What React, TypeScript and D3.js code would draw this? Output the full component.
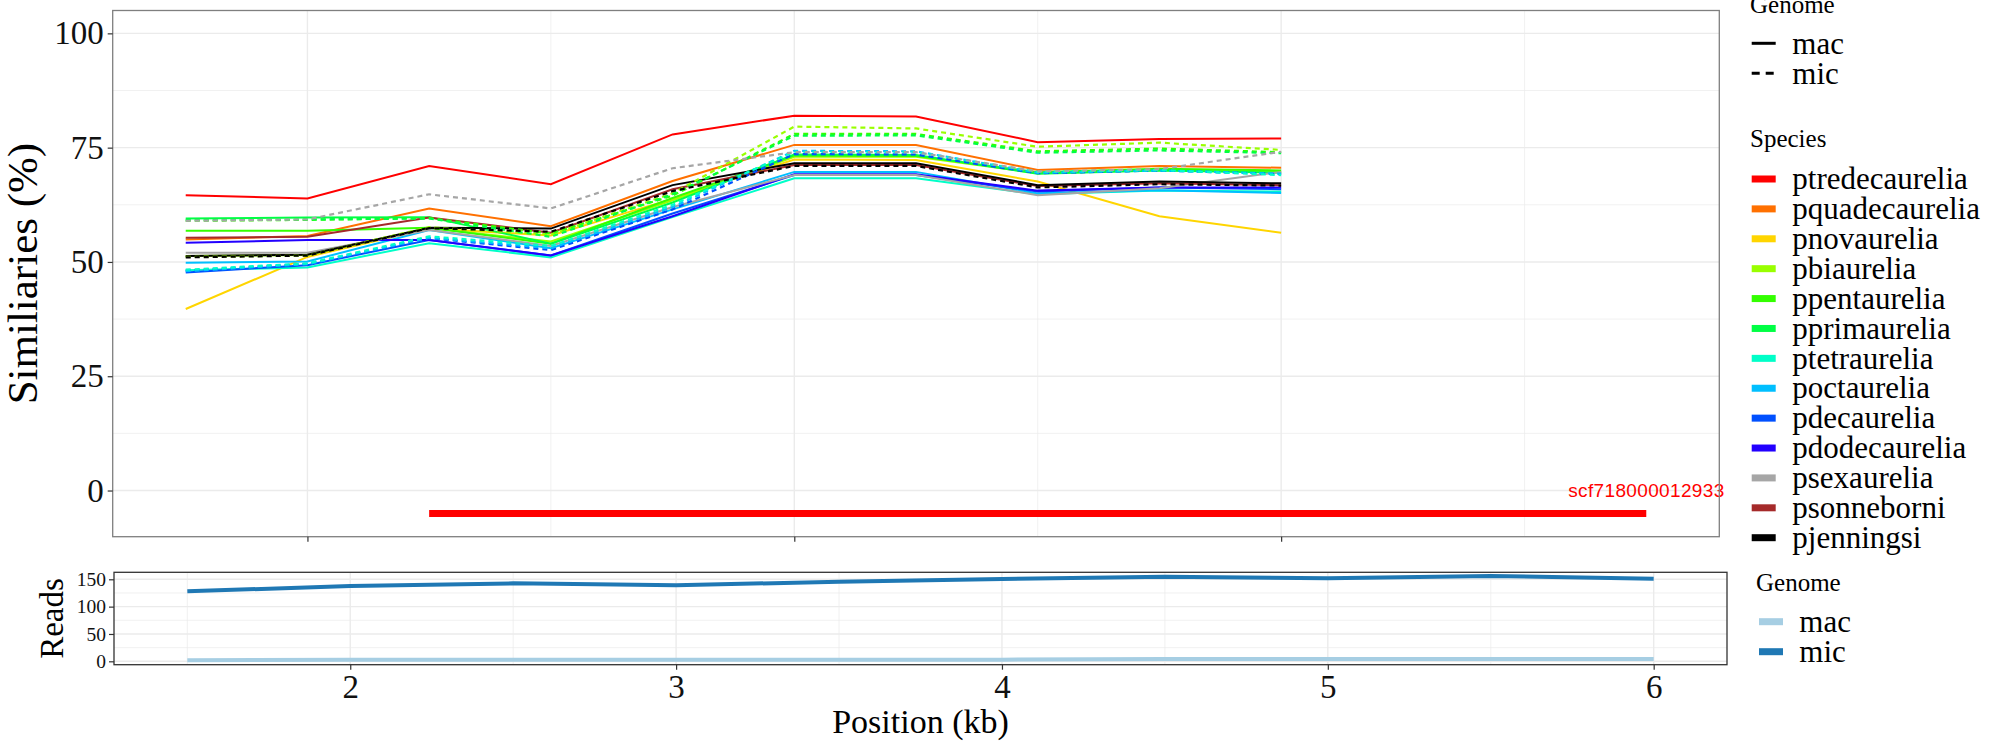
import React, { useEffect, useRef } from "react";
import * as d3 from "d3";

// positions (kb) of the sliding windows
const positions = [1.5, 2, 2.5, 3, 3.5, 4, 4.5, 5, 5.5, 6];

const speciesNames = [
  "ptredecaurelia",
  "pquadecaurelia",
  "pnovaurelia",
  "pbiaurelia",
  "ppentaurelia",
  "pprimaurelia",
  "ptetraurelia",
  "poctaurelia",
  "pdecaurelia",
  "pdodecaurelia",
  "psexaurelia",
  "psonneborni",
  "pjenningsi",
];

const speciesColors = [
  "#FF0000",
  "#FF7000",
  "#FFD500",
  "#99FF00",
  "#33FF00",
  "#00FF44",
  "#00FFC8",
  "#00BFFF",
  "#0050FF",
  "#2200FF",
  "#A6A6A6",
  "#A52A2A",
  "#000000",
];

// similarity (%) - mac genome
const macPtredecaurelia = [64.6, 63.9, 71.0, 67.0, 77.9, 82.0, 81.8, 76.2, 76.9, 77.0];
const macPquadecaurelia = [54.9, 55.7, 61.7, 57.8, 67.7, 75.6, 75.6, 70.1, 71.0, 70.6];
const macPnovaurelia = [39.7, 51.1, 57.3, 55.8, 63.8, 72.4, 72.3, 67.6, 60.0, 56.4];
const macPbiaurelia = [51.3, 51.5, 57.4, 54.5, 63.5, 73.0, 73.0, 69.4, 70.1, 69.7];
const macPpentaurelia = [56.8, 56.8, 57.5, 54.0, 64.0, 73.3, 73.2, 69.6, 70.4, 70.0];
const macPprimaurelia = [59.5, 59.7, 59.8, 54.0, 63.0, 73.5, 73.4, 69.3, 70.0, 69.5];
const macPtetraurelia = [48.2, 48.8, 54.1, 51.0, 59.8, 68.3, 68.3, 64.8, 65.6, 65.4];
const macPoctaurelia = [49.8, 50.1, 57.0, 53.0, 61.5, 69.7, 69.7, 65.0, 65.7, 65.1];
const macPdecaurelia = [47.7, 49.3, 54.8, 51.4, 60.6, 69.0, 69.0, 65.4, 66.3, 65.9];
const macPdodecaurelia = [54.2, 54.8, 54.8, 51.4, 60.0, 69.2, 69.2, 65.6, 66.3, 66.3];
const macPsexaurelia = [52.0, 52.0, 57.0, 53.5, 62.0, 69.0, 69.0, 64.6, 66.1, 69.7];
const macPsonneborni = [55.3, 55.5, 59.7, 56.4, 65.9, 71.2, 71.2, 66.6, 67.2, 66.8];
const macPjenningsi = [51.3, 51.6, 57.5, 57.3, 66.8, 71.6, 71.6, 66.8, 67.6, 67.2];

// similarity (%) - mic genome
const micPbiaurelia = [51.1, 51.4, 57.6, 56.0, 65.0, 79.6, 79.2, 75.2, 76.1, 74.5];
const micPpentaurelia = [59.0, 59.2, 59.6, 56.2, 64.5, 78.0, 78.0, 74.2, 74.8, 74.0];
const micPprimaurelia = [59.2, 59.3, 59.5, 55.5, 64.8, 77.6, 77.7, 73.9, 74.4, 73.8];
const micPtetraurelia = [48.3, 49.7, 55.6, 53.5, 62.5, 74.1, 74.0, 69.7, 70.1, 69.0];
const micPoctaurelia = [48.0, 49.5, 55.3, 53.0, 62.0, 74.3, 74.2, 69.5, 70.0, 69.3];
const micPdecaurelia = [48.1, 49.6, 55.2, 52.6, 61.5, 73.6, 73.5, 69.4, 70.0, 69.2];
const micPsexaurelia = [59.0, 59.3, 64.8, 61.7, 70.5, 74.0, 74.0, 69.8, 70.3, 74.1];
const micPjenningsi = [51.0, 51.4, 57.4, 56.6, 65.5, 71.0, 71.0, 66.3, 67.0, 66.7];

// read depth
const readsMac = [2, 3, 3, 3, 3, 3, 4, 4, 4, 4];
const readsMic = [128, 137.7, 142.6, 139, 145.6, 150.5, 154.8, 151.8, 156, 151];

// scaffold annotation
const scaffoldName = "scf718000012933";
const scaffoldStart = 2.5;
const scaffoldEnd = 7.5;
const scaffoldY = -5;

// axes
const simTicks = [0, 25, 50, 75, 100];
const simMinor = [12.5, 37.5, 62.5, 87.5];
const topXTicks = [2, 4, 6];
const topXMinor = [3, 5, 7];
const readTicks = [0, 50, 100, 150];
const readMinor = [25, 75, 125];
const bottomXTicks = [2, 3, 4, 5, 6];
const bottomXMinor = [1.5, 2.5, 3.5, 4.5, 5.5];

const genomeLevels = ["mac", "mic"];
const readColors = ["#A6CEE3", "#1F78B4"];

const macSeries = [
  macPtredecaurelia, macPquadecaurelia, macPnovaurelia, macPbiaurelia, macPpentaurelia,
  macPprimaurelia, macPtetraurelia, macPoctaurelia, macPdecaurelia, macPdodecaurelia,
  macPsexaurelia, macPsonneborni, macPjenningsi,
].map((values, i) => ({ species: speciesNames[i], values }));

// drawing order of the dashed (mic) lines, last on top
const micSeries = [
  { species: "pdecaurelia", values: micPdecaurelia },
  { species: "pbiaurelia", values: micPbiaurelia },
  { species: "ppentaurelia", values: micPpentaurelia },
  { species: "pprimaurelia", values: micPprimaurelia },
  { species: "poctaurelia", values: micPoctaurelia },
  { species: "ptetraurelia", values: micPtetraurelia },
  { species: "psexaurelia", values: micPsexaurelia },
  { species: "pjenningsi", values: micPjenningsi },
];

const SERIF = "'Liberation Serif', 'Times New Roman', serif";
const SANS = "'Liberation Sans', Arial, sans-serif";

const App: React.FC = () => {
  const svgRef = useRef<SVGSVGElement | null>(null);

  useEffect(() => {
    if (!svgRef.current) return;
    const svg = d3.select(svgRef.current);
    svg.selectAll("*").remove();

    const colorOf = d3.scaleOrdinal<string, string>().domain(speciesNames).range(speciesColors);

    // ---------- upper panel ----------
    const up = { left: 112.7, right: 1719.3, top: 10.5, bottom: 536.7 };
    const x1 = d3.scaleLinear().domain([1.2, 7.8]).range([up.left, up.right]);
    const y1 = d3.scaleLinear().domain([-10.1, 105]).range([up.bottom, up.top]);

    const g1 = svg.append("g");

    const hgrid = (g: any, vals: number[], y: any, x0: number, x1v: number, w: number) =>
      g.selectAll(null).data(vals).enter().append("line")
        .attr("x1", x0).attr("x2", x1v)
        .attr("y1", (d: number) => y(d)).attr("y2", (d: number) => y(d))
        .attr("stroke", "#EBEBEB").attr("stroke-width", w);
    const vgrid = (g: any, vals: number[], x: any, y0: number, y1v: number, w: number) =>
      g.selectAll(null).data(vals).enter().append("line")
        .attr("y1", y0).attr("y2", y1v)
        .attr("x1", (d: number) => x(d)).attr("x2", (d: number) => x(d))
        .attr("stroke", "#EBEBEB").attr("stroke-width", w);

    hgrid(g1, simMinor, y1, up.left, up.right, 0.7);
    vgrid(g1, topXMinor, x1, up.top, up.bottom, 0.7);
    hgrid(g1, simTicks, y1, up.left, up.right, 1.4);
    vgrid(g1, topXTicks, x1, up.top, up.bottom, 1.4);

    const line1 = d3.line<number>()
      .x((_, i) => x1(positions[i]))
      .y(d => y1(d));

    g1.selectAll(null).data(macSeries).enter().append("path")
      .attr("d", d => line1(d.values) as string)
      .attr("fill", "none")
      .attr("stroke", d => colorOf(d.species))
      .attr("stroke-width", 2);

    g1.selectAll(null).data(micSeries).enter().append("path")
      .attr("d", d => line1(d.values) as string)
      .attr("fill", "none")
      .attr("stroke", d => colorOf(d.species))
      .attr("stroke-width", 2.2)
      .attr("stroke-dasharray", "5,4");

    // scaffold bar + label
    g1.append("line")
      .attr("x1", x1(scaffoldStart)).attr("x2", x1(scaffoldEnd))
      .attr("y1", y1(scaffoldY)).attr("y2", y1(scaffoldY))
      .attr("stroke", "#FF0000").attr("stroke-width", 7);
    g1.append("text")
      .attr("x", x1(scaffoldEnd)).attr("y", y1(0))
      .attr("dy", "0.35em")
      .attr("text-anchor", "middle")
      .attr("font-family", SANS).attr("font-size", 19)
      .attr("textLength", 156).attr("lengthAdjust", "spacing")
      .attr("fill", "#FF0000")
      .text(scaffoldName);

    g1.append("rect")
      .attr("x", up.left).attr("y", up.top)
      .attr("width", up.right - up.left).attr("height", up.bottom - up.top)
      .attr("fill", "none").attr("stroke", "#7F7F7F").attr("stroke-width", 1.3);

    const ya1 = g1.append("g").attr("transform", `translate(${up.left},0)`)
      .call(d3.axisLeft(y1).tickValues(simTicks).tickSize(5).tickPadding(4));
    ya1.select(".domain").remove();
    ya1.selectAll("line").attr("stroke", "#333").attr("stroke-width", 1.2);
    ya1.selectAll("text").attr("font-family", SERIF).attr("font-size", 33).attr("fill", "#111");

    const xa1 = g1.append("g").attr("transform", `translate(0,${up.bottom})`)
      .call(d3.axisBottom(x1).tickValues(topXTicks).tickSize(5).tickFormat(() => ""));
    xa1.select(".domain").remove();
    xa1.selectAll("line").attr("stroke", "#333").attr("stroke-width", 1.2);

    g1.append("text")
      .attr("transform", `translate(37,${(up.top + up.bottom) / 2}) rotate(-90)`)
      .attr("text-anchor", "middle")
      .attr("font-family", SERIF).attr("font-size", 43)
      .text("Similiaries (%)");

    // ---------- lower panel ----------
    const lo = { left: 114, right: 1727, top: 572.3, bottom: 664.7 };
    const x2 = d3.scaleLinear().domain([1.275, 6.225]).range([lo.left, lo.right]);
    const y2 = d3.scaleLinear().domain([-6.2, 162.8]).range([lo.bottom, lo.top]);

    const g2 = svg.append("g");
    hgrid(g2, readMinor, y2, lo.left, lo.right, 0.7);
    vgrid(g2, bottomXMinor, x2, lo.top, lo.bottom, 0.7);
    hgrid(g2, readTicks, y2, lo.left, lo.right, 1.4);
    vgrid(g2, bottomXTicks, x2, lo.top, lo.bottom, 1.4);

    const line2 = d3.line<number>()
      .x((_, i) => x2(positions[i]))
      .y(d => y2(d));

    [readsMac, readsMic].forEach((vals, i) => {
      g2.append("path")
        .attr("d", line2(vals) as string)
        .attr("fill", "none")
        .attr("stroke", readColors[i])
        .attr("stroke-width", 4);
    });

    g2.append("rect")
      .attr("x", lo.left).attr("y", lo.top)
      .attr("width", lo.right - lo.left).attr("height", lo.bottom - lo.top)
      .attr("fill", "none").attr("stroke", "#333").attr("stroke-width", 1.3);

    const ya2 = g2.append("g").attr("transform", `translate(${lo.left},0)`)
      .call(d3.axisLeft(y2).tickValues(readTicks).tickSize(5).tickPadding(3));
    ya2.select(".domain").remove();
    ya2.selectAll("line").attr("stroke", "#333").attr("stroke-width", 1.2);
    ya2.selectAll("text").attr("font-family", SERIF).attr("font-size", 19.5).attr("fill", "#111");

    const xa2 = g2.append("g").attr("transform", `translate(0,${lo.bottom})`)
      .call(d3.axisBottom(x2).tickValues(bottomXTicks).tickSize(5).tickPadding(4).tickFormat(d3.format("d")));
    xa2.select(".domain").remove();
    xa2.selectAll("line").attr("stroke", "#333").attr("stroke-width", 1.2);
    xa2.selectAll("text")
      .attr("font-family", SERIF).attr("font-size", 33).attr("fill", "#111")
      .attr("dy", null).attr("y", 33.6);

    g2.append("text")
      .attr("transform", `translate(63,${(lo.top + lo.bottom) / 2}) rotate(-90)`)
      .attr("text-anchor", "middle")
      .attr("font-family", SERIF).attr("font-size", 33)
      .text("Reads");

    g2.append("text")
      .attr("x", (lo.left + lo.right) / 2).attr("y", 733)
      .attr("text-anchor", "middle")
      .attr("font-family", SERIF).attr("font-size", 34)
      .text("Position (kb)");

    // ---------- legends ----------
    const lg = svg.append("g").attr("font-family", SERIF);
    const keyX = 1751.7, keyW = 24, labX = 1792.3;

    lg.append("text").attr("x", 1750).attr("y", 13.3).attr("font-size", 25).text("Genome");
    const ltYs = [43.3, 73.3];
    genomeLevels.forEach((lvl, i) => {
      lg.append("line")
        .attr("x1", keyX).attr("x2", keyX + keyW)
        .attr("y1", ltYs[i]).attr("y2", ltYs[i])
        .attr("stroke", "#000").attr("stroke-width", 3)
        .attr("stroke-dasharray", i === 1 ? "8,6" : null);
      lg.append("text").attr("x", labX).attr("y", ltYs[i]).attr("dy", "0.33em")
        .attr("font-size", 31).text(lvl);
    });

    lg.append("text").attr("x", 1750).attr("y", 146.7).attr("font-size", 25).text("Species");
    const spY = d3.scalePoint<string>().domain(speciesNames).range([179, 537.7]);
    speciesNames.forEach(name => {
      lg.append("rect")
        .attr("x", keyX).attr("y", (spY(name) as number) - 3.5)
        .attr("width", keyW).attr("height", 7)
        .attr("fill", colorOf(name));
      lg.append("text").attr("x", labX).attr("y", spY(name) as number).attr("dy", "0.33em")
        .attr("font-size", 31).text(name);
    });

    lg.append("text").attr("x", 1756).attr("y", 590.7).attr("font-size", 25).text("Genome");
    const rdYs = [621.7, 651.7];
    genomeLevels.forEach((lvl, i) => {
      lg.append("rect")
        .attr("x", 1759).attr("y", rdYs[i] - 3.5)
        .attr("width", 24).attr("height", 7)
        .attr("fill", readColors[i]);
      lg.append("text").attr("x", 1799.3).attr("y", rdYs[i]).attr("dy", "0.33em")
        .attr("font-size", 31).text(lvl);
    });
  }, []);

  return (
    <svg
      ref={svgRef}
      width={2000}
      height={750}
      style={{ position: "absolute", left: 0, top: 0, display: "block", background: "#fff" }}
    />
  );
};

export default App;
